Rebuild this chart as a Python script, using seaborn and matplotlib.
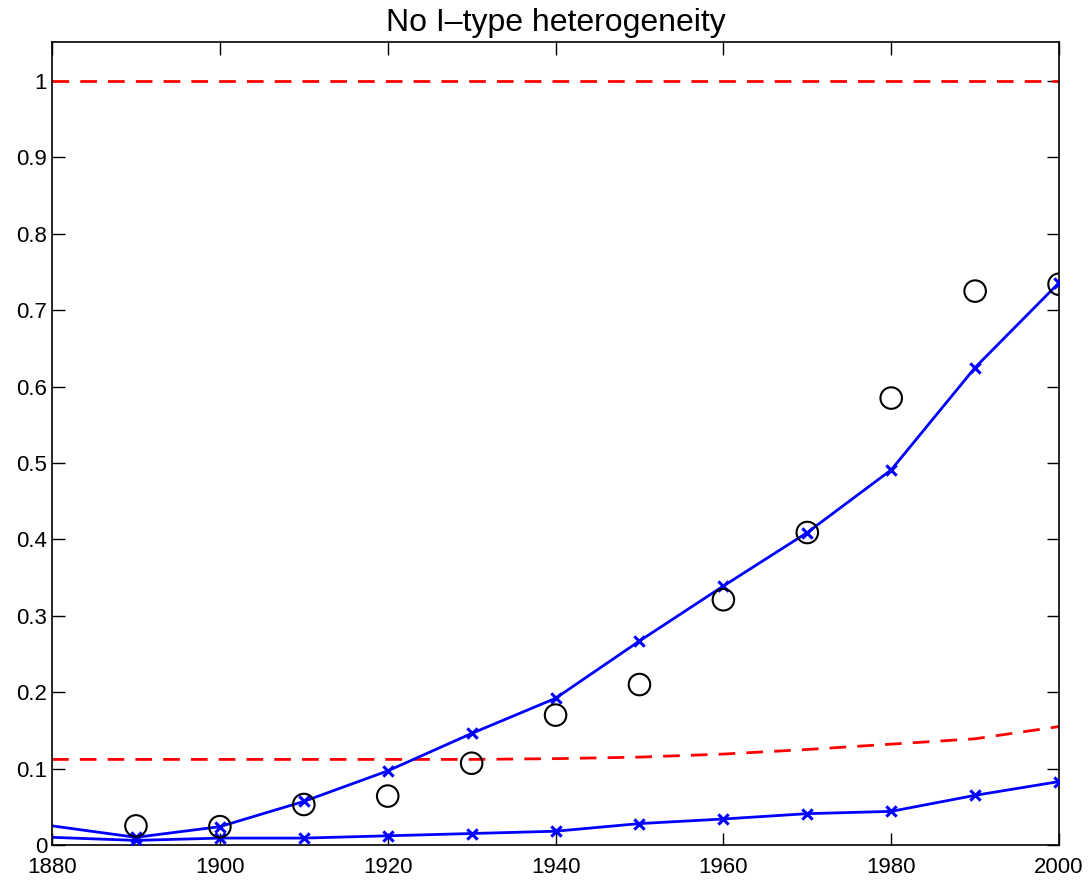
import numpy as np
import pandas as pd
import matplotlib
matplotlib.use("Agg")
import matplotlib.pyplot as plt
import seaborn as sns

# Data
years = [1880, 1890, 1900, 1910, 1920, 1930, 1940, 1950, 1960, 1970, 1980, 1990, 2000]
model_high = [0.025, 0.010, 0.024, 0.057, 0.097, 0.146, 0.192, 0.267, 0.339, 0.409, 0.491, 0.625, 0.736]
model_low = [0.010, 0.006, 0.009, 0.009, 0.012, 0.015, 0.018, 0.028, 0.034, 0.041, 0.044, 0.065, 0.083]
data_years = [1890, 1900, 1910, 1920, 1930, 1940, 1950, 1960, 1970, 1980, 1990, 2000]
data_obs = [0.025, 0.024, 0.053, 0.064, 0.107, 0.170, 0.210, 0.321, 0.409, 0.585, 0.725, 0.734]
bound_low = [0.112, 0.112, 0.112, 0.112, 0.112, 0.112, 0.113, 0.115, 0.119, 0.125, 0.132, 0.139, 0.155]
bound_high = [1.0] * len(years)

sns.set_style("ticks")
plt.rcParams['font.family'] = ['Liberation Sans', 'DejaVu Sans']
plt.rcParams['text.color'] = 'black'
plt.rcParams['xtick.color'] = 'black'
plt.rcParams['ytick.color'] = 'black'
plt.rcParams['axes.edgecolor'] = 'black'

df = pd.DataFrame({'year': years, 'high': model_high, 'low': model_low,
                   'blow': bound_low, 'bhigh': bound_high})
obs = pd.DataFrame({'year': data_years, 'obs': data_obs})

fig = plt.figure(figsize=(10.89, 8.8), dpi=100)
ax = fig.add_axes([0.0478, 0.0398, 0.9247, 0.9124])

# red dashed bounds
sns.lineplot(data=df, x='year', y='bhigh', ax=ax, color='red', lw=2)
ax.lines[-1].set_dashes([6, 4])
sns.lineplot(data=df, x='year', y='blow', ax=ax, color='red', lw=2)
ax.lines[-1].set_dashes([6, 4])
# model lines
sns.lineplot(data=df, x='year', y='high', ax=ax, color='blue', lw=2)
sns.lineplot(data=df, x='year', y='low', ax=ax, color='blue', lw=2)
mk = df[df['year'] >= 1890]
sns.scatterplot(data=mk, x='year', y='high', ax=ax, marker='x', color='blue', s=55, linewidth=2.2, zorder=3)
sns.scatterplot(data=mk, x='year', y='low', ax=ax, marker='x', color='blue', s=55, linewidth=2.2, zorder=3)
# observed data
sns.scatterplot(data=obs, x='year', y='obs', ax=ax, marker='o', s=240, facecolor='none',
                edgecolor='black', linewidth=1.5, zorder=4)

ax.set_xlim(1880, 2000)
ax.set_ylim(0, 1.051)
ax.set_xticks(range(1880, 2001, 20))
ax.set_yticks(np.arange(0, 1.01, 0.1))
ax.set_yticklabels(['0', '0.1', '0.2', '0.3', '0.4', '0.5', '0.6', '0.7', '0.8', '0.9', '1'])
ax.tick_params(direction='in', top=True, right=True, labelsize=16, length=9, width=1)
ax.tick_params(axis='x', pad=9)
for s in ax.spines.values():
    s.set_visible(True)
    s.set_linewidth(1.2)
ax.set_xlabel('')
ax.set_ylabel('')
ax.set_title('No I\u2013type heterogeneity', fontsize=23, pad=8)

fig.savefig('out.png', dpi=100)
